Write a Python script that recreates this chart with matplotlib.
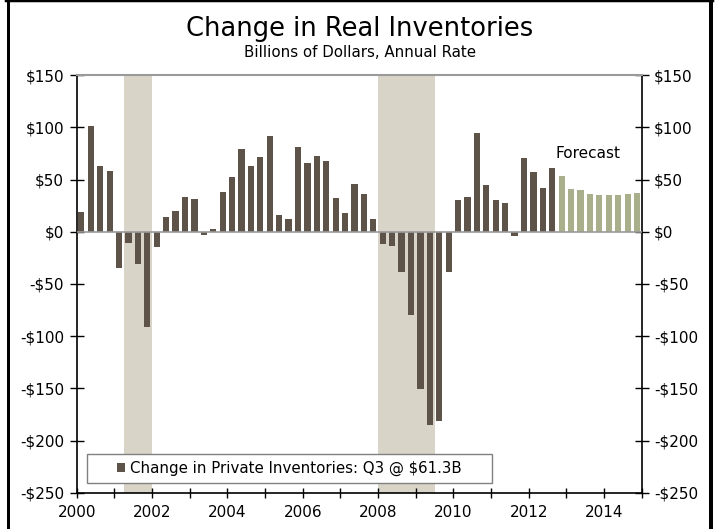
import matplotlib
matplotlib.use("Agg")
import matplotlib.pyplot as plt
from matplotlib.patches import Rectangle
from matplotlib.lines import Line2D
import numpy as np

# Data: quarterly change in private inventories (billions $, SAAR)
actual = [18.5, 101, 63, 58,
          -35, -10.5, -30.7, -91,
          -15, 13.7, 19.8, 33.2,
          31.6, -3.2, 2.9, 38.3,
          52.3, 78.8, 62.9, 71.8,
          91.6, 15.6, 11.8, 81,
          65.7, 72.7, 67.7, 31.9,
          17.6, 45.3, 36, 12.4,
          -12.1, -13.7, -38.3, -80.2,
          -150.4, -185.5, -181.7, -39,
          30.6, 33.2, 95, 45,
          30, 27.4, -4.1, 70.2,
          56.8, 41.5, 61.3]
forecast = [53, 41.2, 39.9, 36.4, 35.4, 35.1, 35.1, 36, 37]
start_year = 2000
recessions = [(2001.25, 2002.0), (2008.0, 2009.5)]
yticks = [150, 100, 50, 0, -50, -100, -150, -200, -250]
xtick_labels = [2000, 2002, 2004, 2006, 2008, 2010, 2012, 2014]
legend_label = "Change in Private Inventories: Q3 @ $61.3B"

dark = "#5e5348"
green = "#a9ae8b"
shade = "#d8d4c8"

fig = plt.figure(figsize=(7.2, 5.29), dpi=100)
ax = fig.add_axes([0.1065, 0.0686, 0.7848, 0.7894])

for a, b in recessions:
    ax.axvspan(a, b, color=shade, zorder=0, lw=0)

n_a = len(actual)
xa = start_year + (np.arange(n_a) + 0.5) / 4
xf = start_year + (np.arange(n_a, n_a + len(forecast)) + 0.5) / 4
bw = 0.165
ax.bar(xa, actual, width=bw, color=dark, zorder=2, label=legend_label)
ax.bar(xf, forecast, width=bw, color=green, zorder=2)

ax.axhline(0, color="#9a9a9a", lw=1.2, zorder=3)

ax.set_xlim(2000, 2015)
ax.set_ylim(-250, 150)
ax.set_yticks(yticks)
ax.set_yticklabels([("-$%d" % abs(v)) if v < 0 else ("$%d" % v) for v in yticks])
ax.set_xticks(np.arange(2000, 2016))
ax.set_xticklabels([str(y) if y in xtick_labels else "" for y in range(2000, 2016)])
ax.tick_params(axis="y", direction="inout", length=10, width=1, labelsize=11,
               left=True, right=True, labelleft=True, labelright=True, pad=4)
ax.tick_params(axis="x", direction="inout", length=7, width=1, labelsize=11, pad=5)

for s in ["left", "right", "bottom"]:
    ax.spines[s].set_color("black")
    ax.spines[s].set_linewidth(1.2)
ax.spines["top"].set_color("#9a9a9a")
ax.spines["top"].set_linewidth(1.5)

ax.text(2012.72, 75, "Forecast", fontsize=11, ha="left", va="center", zorder=4)

# legend box
bx0, by0, bx1, by1 = 0.0177, 0.024, 0.735, 0.092
ax.add_patch(Rectangle((bx0, by0), bx1 - bx0, by1 - by0, transform=ax.transAxes,
                       facecolor="white", edgecolor="#808080", lw=1.0, zorder=5))
leg = ax.legend(loc="center", bbox_to_anchor=(bx0, by0, bx1 - bx0, by1 - by0),
                fontsize=10.8, frameon=False,
                handlelength=0.55, handleheight=0.55, handletextpad=0.35,
                borderpad=0.0)
leg.set_zorder(6)

fig.text(0.5, 0.945, "Change in Real Inventories", ha="center", va="center", fontsize=18.5)
fig.text(0.5, 0.900, "Billions of Dollars, Annual Rate", ha="center", va="center", fontsize=10.8)

# frame around chart (left, right, top)
W, H = 720.0, 529.0
fig.add_artist(Line2D([7.5 / W, 7.5 / W], [0, 1], color="black", lw=3 * 0.72,
                      transform=fig.transFigure))
fig.add_artist(Line2D([711 / W, 711 / W], [0, 1], color="black", lw=4 * 0.72,
                      transform=fig.transFigure))
fig.add_artist(Line2D([6 / W, 713 / W], [1 - 1.2 / H, 1 - 1.2 / H], color="black",
                      lw=2.5 * 0.72, transform=fig.transFigure))

fig.savefig("out.png", dpi=100)
